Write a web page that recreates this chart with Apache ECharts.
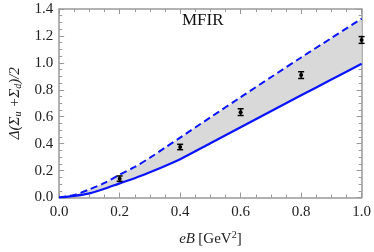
<!DOCTYPE html>
<html><head><meta charset="utf-8">
<script src="https://cdn.jsdelivr.net/npm/echarts@6/dist/echarts.min.js"></script>
<style>html,body{margin:0;padding:0;background:#fff}#c{width:374px;height:252px}</style>
</head><body><div id="c"></div>
<script>
var xs = [0, 0.05, 0.1, 0.15, 0.2, 0.25, 0.3, 0.35, 0.4, 0.5, 0.6, 0.7, 0.8, 0.9, 1.0];
var solidVals = [0, 0.012, 0.031, 0.065, 0.105, 0.143, 0.187, 0.234, 0.284, 0.403, 0.522, 0.64, 0.759, 0.876, 0.993];
var dashedVals = [0, 0.019, 0.06, 0.108, 0.17, 0.227, 0.295, 0.37, 0.445, 0.595, 0.745, 0.893, 1.04, 1.184, 1.328];
var ptX = [0.2, 0.4, 0.6, 0.8, 1.0];
var ptY = [0.14, 0.375, 0.634, 0.909, 1.17];
var ptErr = [0.02, 0.02, 0.025, 0.025, 0.025];
var xTicks = ['0.0', '0.2', '0.4', '0.6', '0.8', '1.0'];
var yTicks = ['0.0', '0.2', '0.4', '0.6', '0.8', '1.0', '1.2', '1.4'];

var chart = echarts.init(document.getElementById('c'));
var axisCol = '#999';
var font = 'Liberation Serif';
function pairs(a) { return xs.map(function (x, i) { return [x, a[i]]; }); }

var baseX = {
  type: 'value', min: 0, max: 1, interval: 0.2,
  axisLine: { show: true, onZero: false, lineStyle: { color: axisCol, width: 1.5 } },
  axisTick: { show: true, inside: true, length: 5, lineStyle: { color: axisCol } },
  minorTick: { show: true, splitNumber: 4, length: 3, lineStyle: { color: axisCol } },
  splitLine: { show: false }
};
var baseY = {
  type: 'value', min: 0, max: 1.4, interval: 0.2,
  axisLine: { show: true, onZero: false, lineStyle: { color: axisCol, width: 1.5 } },
  axisTick: { show: true, inside: true, length: 5, lineStyle: { color: axisCol } },
  minorTick: { show: true, splitNumber: 4, length: 3, lineStyle: { color: axisCol } },
  splitLine: { show: false }
};

chart.setOption({
  animation: false,
  grid: { left: 48, right: 9, top: 9, bottom: 47.5 },
  xAxis: [
    Object.assign({}, baseX, {
      position: 'bottom',
      axisLabel: { color: '#222', fontFamily: font, fontSize: 15, margin: 7,
        formatter: function (v) { var i = Math.round(v / 0.2); return xTicks[i]; } },
      name: '{i|eB} {n|[GeV}{s|2}{n|]}', nameLocation: 'middle', nameGap: 33,
      nameTextStyle: { rich: {
        i: { fontFamily: font, fontStyle: 'italic', fontSize: 15, color: '#222' },
        n: { fontFamily: font, fontSize: 15, color: '#222' },
        s: { fontFamily: font, fontSize: 10, color: '#222', verticalAlign: 'top', padding: [0, 0, 8, 0] }
      } }
    }),
    Object.assign({}, baseX, { position: 'top', axisLabel: { show: false } })
  ],
  yAxis: [
    Object.assign({}, baseY, {
      position: 'left',
      axisLabel: { color: '#222', fontFamily: font, fontSize: 15, margin: 6,
        formatter: function (v) { var i = Math.round(v / 0.2); return yTicks[i]; } },
      name: '{i|Δ(Σ}{b|u}{i| +Σ}{b|d}{i|)/2}', nameLocation: 'middle', nameGap: 34, nameRotate: 90,
      nameTextStyle: { rich: {
        i: { fontFamily: font, fontStyle: 'italic', fontSize: 15, color: '#222' },
        b: { fontFamily: font, fontStyle: 'italic', fontSize: 10, color: '#222', verticalAlign: 'bottom', padding: [6, 0, 0, 0] }
      } }
    }),
    Object.assign({}, baseY, { position: 'right', axisLabel: { show: false } })
  ],
  graphic: [{
    type: 'text', left: 182, top: 12,
    style: { text: 'MFIR', fontFamily: font, fontSize: 17, fill: '#111' }
  }],
  series: [
    { type: 'custom', data: [0], silent: true, z: 1,
      renderItem: function (params, api) {
        var pts = [];
        xs.forEach(function (x, i) { pts.push(api.coord([x, dashedVals[i]])); });
        for (var i = xs.length - 1; i >= 0; i--) pts.push(api.coord([xs[i], solidVals[i]]));
        return { type: 'polygon', shape: { points: pts }, style: { fill: '#d9d9d9' } };
      } },
    { type: 'line', data: pairs(solidVals), symbol: 'none', smooth: 0.3, z: 3,
      lineStyle: { color: '#0a14ff', width: 2.2 } },
    { type: 'line', data: pairs(dashedVals), symbol: 'none', smooth: 0.3, z: 3,
      lineStyle: { color: '#0a14ff', width: 2, type: [7, 4] } },
    { type: 'custom', data: ptX.map(function (x, i) { return [x, ptY[i], ptErr[i]]; }),
      renderItem: function (params, api) {
        var x = api.value(0), y = api.value(1), e = api.value(2);
        var c = api.coord([x, y]);
        var hi = api.coord([x, y + e]);
        var lo = api.coord([x, y - e]);
        var w = 3;
        var st = { stroke: '#000', lineWidth: 1.5 };
        return { type: 'group', children: [
          { type: 'line', shape: { x1: c[0], y1: hi[1], x2: c[0], y2: lo[1] }, style: st },
          { type: 'line', shape: { x1: c[0] - w, y1: hi[1], x2: c[0] + w, y2: hi[1] }, style: st },
          { type: 'line', shape: { x1: c[0] - w, y1: lo[1], x2: c[0] + w, y2: lo[1] }, style: st },
          { type: 'circle', shape: { cx: c[0], cy: c[1], r: 2 }, style: { fill: '#000' } }
        ] };
      }, z: 10 }
  ]
});
</script></body></html>
